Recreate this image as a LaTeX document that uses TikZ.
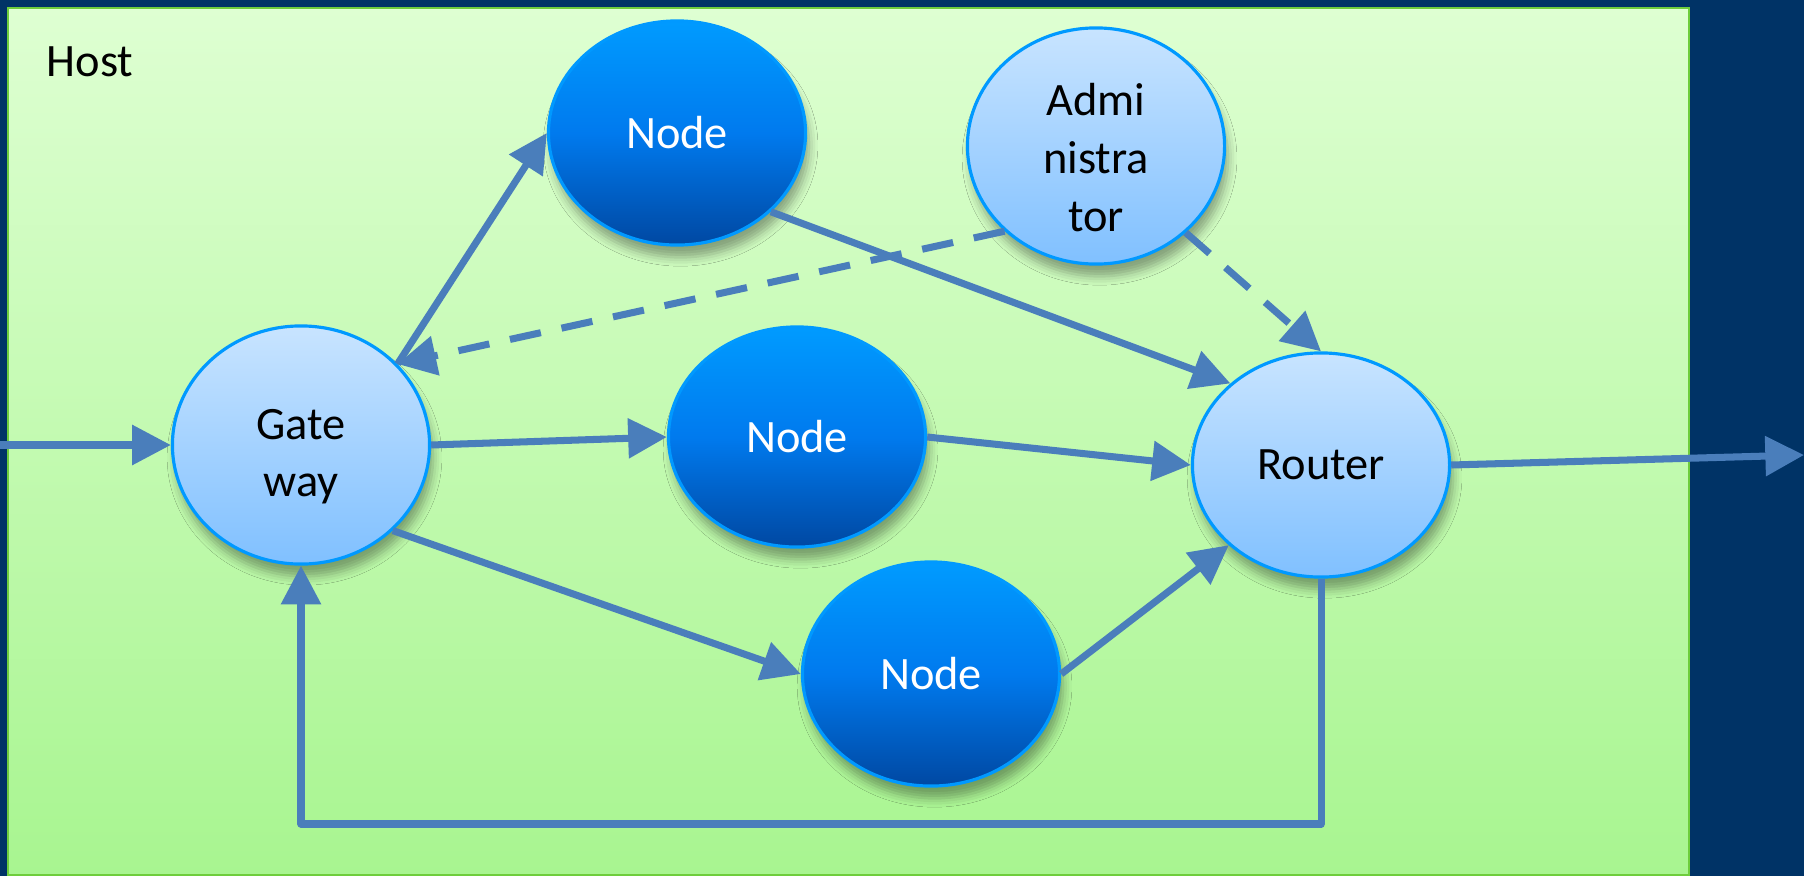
\documentclass[tikz,border=0pt]{standalone}
\usepackage{fontspec}
\setmainfont{Carlito}
\usetikzlibrary{arrows.meta,shapes.geometric,shadows.blur}

\begin{document}
\begin{tikzpicture}[
  x=0.01cm, y=-0.01cm,
  >={Triangle[length=11pt,width=11pt]},
  font=\fontsize{13.2}{16.4}\selectfont,
  blob/.style={ellipse,inner sep=0pt,align=center,
    minimum width=2.57cm,minimum height=2.24cm,
    draw=blobedge,line width=0.9pt,
    blur shadow={shadow xshift=1pt,shadow yshift=-3.5pt,shadow blur radius=2.5pt,shadow opacity=35}},
  lightblob/.style={blob,top color=lighttop,bottom color=lightbot,text=black},
  darkblob/.style={blob,top color=darktop,bottom color=darkbot,middle color=darkmid,text=white},
  lowtext/.style={label={[align=center,yshift=-3.3pt]center:#1}},
  flow/.style={->,flowline,line width=2pt,line join=round},
  ctrl/.style={flow,dash pattern=on 9pt off 6pt}
]
\definecolor{outside}{RGB}{0,51,102}
\definecolor{hosttop}{RGB}{222,255,210}
\definecolor{hostbot}{RGB}{168,245,144}
\definecolor{hostedge}{RGB}{110,205,60}
\definecolor{flowline}{RGB}{74,126,187}
\definecolor{blobedge}{RGB}{0,153,255}
\definecolor{lighttop}{RGB}{200,228,255}
\definecolor{lightbot}{RGB}{128,192,255}
\definecolor{darktop}{RGB}{0,155,255}
\definecolor{darkmid}{RGB}{0,122,238}
\definecolor{darkbot}{RGB}{0,72,162}

\useasboundingbox (0,0) rectangle (1804,876);

% Outside area and the host box.
\fill[outside] (0,0) rectangle (1804,876);
\shade[top color=hosttop,bottom color=hostbot,draw=hostedge,line width=0.8pt]
  (8,8) rectangle (1689,875);
\node[anchor=base west,inner sep=0pt] (host) at (46,77) {Host};

% Components.
\node[lightblob,minimum height=2.38cm,lowtext={Gate\\way}] (gate) at (301,445) {};
\node[darkblob] (nodeA) at (677,133) {Node};
\node[darkblob,minimum height=2.2cm] (nodeB) at (797,437) {Node};
\node[darkblob] (nodeC) at (931,674) {Node};
\node[lightblob,minimum height=2.36cm,lowtext={Admi\\nistra\\tor}] (admin) at (1096,146) {};
\node[lightblob] (router) at (1321,465) {Router};

\coordinate (in) at (0,445);
\coordinate (out) at (1804,455);
\coordinate (loop) at (0,824);

% Traffic paths.
\draw[flow] (in) -- (gate.west);
\draw[flow] (gate.40) -- (nodeA.west);
\draw[flow] (gate.east) -- (nodeB.west);
\draw[flow] (gate.-43) -- (nodeC.west);
\draw[flow] (nodeA.-40) -- (router.138);
\draw[flow] (nodeB.east) -- (router.west);
\draw[flow] (nodeC.east) -- (router.221);
\draw[flow] (router.east) -- (out);
\draw[flow] (router.south) -- (router.south |- loop) -- (gate.south |- loop) -- (gate.south);

% Control from the administrator.
\draw[ctrl] (admin.223) -- (gate.40);
\draw[ctrl] (admin.-44) -- (router.north);
\end{tikzpicture}
\end{document}
